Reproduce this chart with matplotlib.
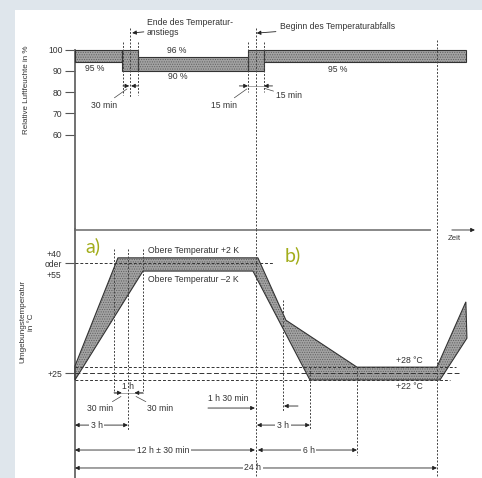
import numpy as np
import matplotlib
matplotlib.use("Agg")
import matplotlib.pyplot as plt
from matplotlib.patches import Rectangle

plt.rcParams['font.family'] = ['Liberation Sans', 'DejaVu Sans']
plt.rcParams['hatch.linewidth'] = 0.5

# Time positions are read as drawn on the schematic (hours, not to scale)

# relative humidity bands: start, width, lower %, upper %
hum_start = [0.0, 3.12, 4.18, 11.47, 12.53]
hum_width = [3.12, 1.06, 7.29, 1.06, 13.39]
hum_low = [94, 90, 90, 90, 94]
hum_high = [100, 100, 96.5, 100, 100]
hum_ticks = [60, 70, 80, 90, 100]

# temperature tolerance band (drawn levels)
temp_upper_t = [0.0, 2.85, 12.13, 13.99, 18.70, 24.0, 25.92]
temp_upper_v = [26.9, 56.4, 56.4, 39.4, 26.6, 26.6, 44.4]
temp_lower_t = [0.0, 4.51, 11.80, 15.58, 24.2, 25.99]
temp_lower_v = [23.1, 52.8, 52.8, 23.1, 23.1, 34.5]
temp_ticks = [25, 55]
temp_ticklabels = ['+25', '+40\noder\n+55']

# horizontal reference lines: level, end time, dash pattern
ref_level = [55, 26.6, 25, 23.1]
ref_end = [13.13, 25.26, 25.46, 24.9]
ref_dash = [(3, 2), (3, 2), (5, 2.5), (3, 2)]

# vertical dashed lines (time, from, to)
hum_vlines = [(3.18, 103.5, 78.6), (3.65, 110.1, 77.5), (4.18, 103.5, 78.6),
              (11.47, 103.5, 80), (12.0, 110.1, 15.73), (12.53, 103.5, 80),
              (24.0, 104.3, 15.73)]
temp_vlines = [(2.59, 58.8, 19.8), (3.51, 58.8, 9.5), (4.51, 58.8, 19.8),
               (12.0, 64.27, -3.63), (13.79, 44.9, 14.4), (15.58, 26.6, 9.5),
               (18.70, 26.6, 2.6), (24.0, 64.27, -3.63)]

# dimension lines (start, end, level, label, label position)
dims = [(0.0, 3.51, 10.8, '3 h', 1.45), (12.07, 15.58, 10.8, '3 h', 13.8),
        (0.0, 11.93, 4.0, '12 h ± 30 min', 5.83), (12.13, 18.70, 4.0, '6 h', 15.5),
        (0.0, 24.0, -0.9, '24 h', 11.8)]

TXT = '#333333'
FS = 6.2
GRAY = '#a2a2a2'
DOTS = '#606060'
LINE = '#333333'

fig = plt.figure(figsize=(4.82, 4.78), dpi=100, facecolor='#dfe6ec')
fig.patches.append(Rectangle((15 / 482, 0), 467 / 482, 468 / 478,
                             transform=fig.transFigure, facecolor='white',
                             edgecolor='none', zorder=-1))

split = 229 / 478
ax1 = fig.add_axes([0, 1 - split, 1, split])
ax2 = fig.add_axes([0, 0, 1, 1 - split])
for ax in (ax1, ax2):
    ax.set_facecolor('none')
    ax.set_xlim(-4.97, 26.99)
    for s in ('top', 'right', 'bottom'):
        ax.spines[s].set_visible(False)
    ax.spines['left'].set_position(('data', 0))
    ax.spines['left'].set_color('#666666')
    ax.spines['left'].set_linewidth(1.3)
    ax.set_xticks([])
    ax.tick_params(axis='y', direction='out', length=7.5, width=0.8,
                   color='#555555', labelsize=FS, labelcolor=TXT, pad=1.5)

ax1.set_ylim(15.73, 123.24)
ax2.set_ylim(-3.63, 64.27)
ax1.spines['left'].set_bounds(15.73, 100)
ax1.set_yticks(hum_ticks)
ax2.set_yticks(temp_ticks)
ax2.set_yticklabels(temp_ticklabels)
for lab in ax2.get_yticklabels():
    lab.set_multialignment('center')

ax1.set_ylabel('Relative Luftfeuchte in %', fontsize=5.8, color=TXT)
ax1.yaxis.set_label_coords(0.062, 0.61)
ax2.set_ylabel('Umgebungstemperatur\nin °C', fontsize=5.9, color=TXT)
ax2.yaxis.set_label_coords(0.072, 0.627)

# humidity bands
ax1.bar(hum_start, np.subtract(hum_high, hum_low), hum_width, bottom=hum_low,
        align='edge', color=GRAY, hatch='.......', edgecolor=DOTS, linewidth=0, zorder=2)
ax1.bar(hum_start, np.subtract(hum_high, hum_low), hum_width, bottom=hum_low,
        align='edge', fill=False, edgecolor=LINE, linewidth=0.8, zorder=3)

for lab, x, y in [('95 %', 1.33, 91.3), ('96 %', 6.76, 99.3),
                  ('90 %', 6.83, 87.1), ('95 %', 17.4, 90.4)]:
    ax1.text(x, y, lab, fontsize=FS, color=TXT, ha='center', va='center')

for x, y0, y1 in hum_vlines:
    ax1.plot([x, x], [y0, y1], color='#444444', lw=0.7, ls=(0, (2, 1.6)), zorder=4)

arrow = dict(arrowstyle='-|>', color='#222222', lw=0.6, mutation_scale=6,
             shrinkA=0, shrinkB=0)
leader = dict(arrowstyle='-', color='#444444', lw=0.5, shrinkA=0, shrinkB=0)

ax1.annotate('', xy=(3.6, 82.9), xytext=(3.18, 82.9), arrowprops=arrow)
ax1.annotate('', xy=(3.72, 82.9), xytext=(4.18, 82.9), arrowprops=arrow)
ax1.annotate('', xy=(11.47, 82.9), xytext=(10.9, 82.9), arrowprops=arrow)
ax1.annotate('', xy=(12.53, 82.9), xytext=(13.1, 82.9), arrowprops=arrow)
ax1.plot([11.47, 12.53], [82.9, 82.9], color='#999999', lw=0.6)

ax1.annotate('30 min', xy=(3.45, 81.5), xytext=(2.8, 73.9), fontsize=FS, color=TXT,
             ha='right', va='center', arrowprops=leader)
ax1.annotate('15 min', xy=(11.4, 81.5), xytext=(10.75, 73.9), fontsize=FS, color=TXT,
             ha='right', va='center', arrowprops=leader)
ax1.annotate('15 min', xy=(12.55, 81.8), xytext=(13.35, 78.2), fontsize=FS, color=TXT,
             ha='left', va='center', arrowprops=leader)
ax1.annotate('Ende des Temperatur-\nanstiegs', xy=(3.7, 107.7), xytext=(4.75, 110.3),
             fontsize=FS, color=TXT, ha='left', va='center', linespacing=1.1,
             arrowprops=dict(arrowstyle='-|>', color='#222222', lw=0.6,
                             mutation_scale=6, shrinkA=0, shrinkB=1))
ax1.annotate('Beginn des Temperaturabfalls', xy=(12.05, 107.7), xytext=(13.6, 110.6),
             fontsize=FS, color=TXT, ha='left', va='center',
             arrowprops=dict(arrowstyle='-|>', color='#222222', lw=0.6,
                             mutation_scale=6, shrinkA=1, shrinkB=0))

# temperature band
poly_t = temp_upper_t + temp_lower_t[::-1]
poly_v = temp_upper_v + temp_lower_v[::-1]
ax2.fill(poly_t, poly_v, facecolor=GRAY, hatch='.......', edgecolor=DOTS,
         linewidth=0, zorder=2)
ax2.fill(poly_t, poly_v, fill=False, edgecolor=LINE, linewidth=0.8, zorder=3)

for lvl, end, dash in zip(ref_level, ref_end, ref_dash):
    ax2.plot([0, end], [lvl, lvl], color='#333333', lw=0.7, ls=(0, dash), zorder=4)

for x, y0, y1 in temp_vlines:
    ax2.plot([x, x], [y0, y1], color='#444444', lw=0.7, ls=(0, (2, 1.6)), zorder=4)

# separator line and time arrow
ax2.plot([0, 23.54], [64.1, 64.1], color='#888888', lw=1.4, clip_on=False)
ax2.annotate('', xy=(26.52, 64.0), xytext=(24.99, 64.0), arrowprops=arrow)
ax2.text(24.75, 61.8, 'Zeit', fontsize=5.6, color=TXT, ha='left', va='center')

ax2.text(0.7, 59.6, 'a)', fontsize=14, color='#a2ad1b', family='Lato',
         ha='left', va='center')
ax2.text(13.9, 57.2, 'b)', fontsize=14, color='#a2ad1b', family='Lato',
         ha='left', va='center')
ax2.text(4.84, 58.5, 'Obere Temperatur +2 K', fontsize=FS, color=TXT, va='center')
ax2.text(4.84, 50.4, 'Obere Temperatur \u20132 K', fontsize=FS, color=TXT, va='center')
ax2.text(21.3, 28.3, '+28 °C', fontsize=FS, color=TXT, ha='left', va='center')
ax2.text(21.3, 21.4, '+22 °C', fontsize=FS, color=TXT, ha='left', va='center')

# 1 h window around the end of the rise
ax2.text(3.51, 21.3, '1 h', fontsize=FS, color=TXT, ha='center', va='center')
ax2.plot([2.59, 4.51], [19.6, 19.6], color='#999999', lw=0.6)
ax2.annotate('', xy=(3.1, 19.6), xytext=(2.59, 19.6), arrowprops=arrow)
ax2.annotate('', xy=(3.95, 19.6), xytext=(4.51, 19.6), arrowprops=arrow)
ax2.annotate('30 min', xy=(3.05, 18.6), xytext=(2.55, 15.2), fontsize=FS, color=TXT,
             ha='right', va='center', arrowprops=leader)
ax2.annotate('30 min', xy=(4.05, 18.6), xytext=(4.75, 15.2), fontsize=FS, color=TXT,
             ha='left', va='center', arrowprops=leader)

ax2.annotate('', xy=(11.93, 15.45), xytext=(8.82, 15.45), arrowprops=arrow)
ax2.text(8.82, 18.1, '1 h 30 min', fontsize=FS, color=TXT, ha='left', va='center')
ax2.annotate('', xy=(13.86, 16.0), xytext=(14.79, 16.0), arrowprops=arrow)

dim_arrow = dict(arrowstyle='<|-|>', color='#222222', lw=0.6, mutation_scale=6,
                 shrinkA=0, shrinkB=0)
for x0, x1, y, lab, xl in dims:
    ax2.annotate('', xy=(x1, y), xytext=(x0, y), arrowprops=dim_arrow)
    ax2.text(xl, y, lab, fontsize=FS, color=TXT, ha='center', va='center',
             bbox=dict(facecolor='white', edgecolor='none', pad=1.2))

fig.savefig('out.png', dpi=100, facecolor=fig.get_facecolor())
